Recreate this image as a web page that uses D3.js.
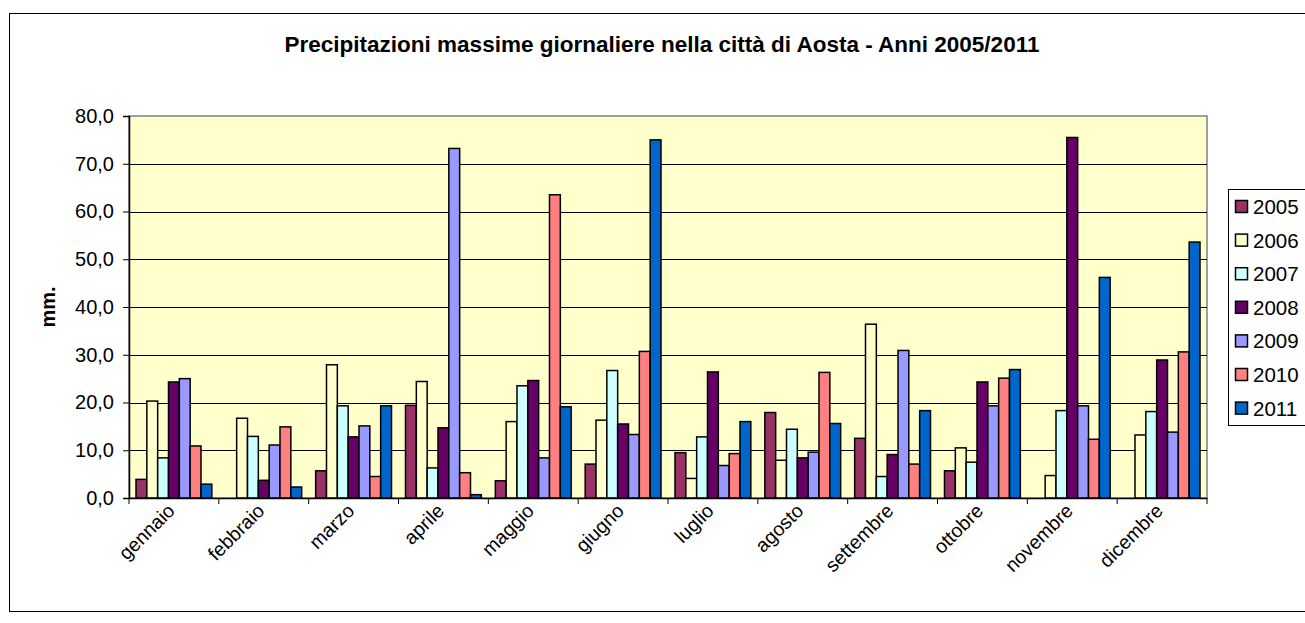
<!DOCTYPE html>
<html lang="it">
<head>
<meta charset="utf-8">
<title>Precipitazioni Aosta</title>
<script src="https://cdn.jsdelivr.net/npm/d3@7/dist/d3.min.js"></script>
<style>
  body { margin: 0; background: #fff; }
  svg { display: block; font-family: "Liberation Sans", Arial, sans-serif; }
</style>
</head>
<body>
<div id="chart"></div>
<script>
// months on the x axis
const months = ["gennaio", "febbraio", "marzo", "aprile", "maggio", "giugno",
                "luglio", "agosto", "settembre", "ottobre", "novembre", "dicembre"];
const years = ["2005", "2006", "2007", "2008", "2009", "2010", "2011"];

// max daily rain (mm), one value per month
const y2005 = [3.9, 0, 5.7, 19.4, 3.6, 7.1, 9.5, 17.9, 12.5, 5.7, 0, 0];
const y2006 = [20.3, 16.7, 27.9, 24.4, 16.0, 16.3, 4.1, 7.9, 36.4, 10.5, 4.7, 13.2];
const y2007 = [8.4, 12.9, 19.3, 6.3, 23.5, 26.7, 12.8, 14.4, 4.5, 7.5, 18.3, 18.1];
const y2008 = [24.3, 3.7, 12.8, 14.7, 24.6, 15.5, 26.4, 8.4, 9.1, 24.3, 75.5, 28.9];
const y2009 = [25.0, 11.1, 15.1, 73.2, 8.4, 13.3, 6.8, 9.6, 30.9, 19.3, 19.3, 13.8];
const y2010 = [10.9, 14.9, 4.5, 5.3, 63.5, 30.7, 9.3, 26.3, 7.1, 25.1, 12.3, 30.6];
const y2011 = [2.9, 2.3, 19.3, 0.7, 19.1, 75.0, 16.0, 15.6, 18.3, 26.9, 46.2, 53.6];

const yTicks = [0, 10, 20, 30, 40, 50, 60, 70, 80];
const colors = ["#993366", "#FFFFCC", "#CCFFFF", "#660066", "#9999FF", "#FF8080", "#0066CC"];

const series = [y2005, y2006, y2007, y2008, y2009, y2010, y2011];

const W = 1305, H = 623;
const plot = {left: 129, top: 116, right: 1207, bottom: 498};

const svg = d3.select("#chart").append("svg")
    .attr("width", W)
    .attr("height", H);

// outer chart border
svg.append("rect")
    .attr("x", 9.5).attr("y", 13.5)
    .attr("width", W + 10).attr("height", 598)
    .attr("fill", "#fff").attr("stroke", "#000");

// title
svg.append("text")
    .attr("x", 662).attr("y", 52)
    .attr("text-anchor", "middle")
    .style("font-size", "22.5px").style("font-weight", "bold")
    .text("Precipitazioni massime giornaliere nella città di Aosta - Anni 2005/2011");

const x = d3.scaleBand()
    .domain(months)
    .range([plot.left, plot.right]);

const xInner = d3.scaleBand()
    .domain(years)
    .range([7, x.bandwidth() - 7]);

const y = d3.scaleLinear()
    .domain([0, 80])
    .range([plot.bottom, plot.top]);

// plot background
svg.append("rect")
    .attr("x", plot.left).attr("y", plot.top)
    .attr("width", plot.right - plot.left).attr("height", plot.bottom - plot.top)
    .attr("fill", "#FFFFCC").attr("stroke", "#808080").attr("stroke-width", 1.5);

// gridlines
svg.append("g")
    .selectAll("line")
    .data(yTicks.filter(d => d > 0 && d < 80))
    .join("line")
    .attr("x1", plot.left).attr("x2", plot.right)
    .attr("y1", d => Math.round(y(d)) + 0.5).attr("y2", d => Math.round(y(d)) + 0.5)
    .attr("stroke", "#000").attr("stroke-width", 1);

// bars
const groups = svg.append("g")
    .selectAll("g")
    .data(years)
    .join("g")
    .attr("fill", (d, i) => colors[i]);

groups.selectAll("rect")
    .data((yr, i) => series[i].map((v, m) => ({year: yr, month: months[m], value: v})))
    .join("rect")
    .filter(d => d.value > 0)
    .attr("x", d => x(d.month) + xInner(d.year))
    .attr("y", d => y(d.value))
    .attr("width", xInner.bandwidth())
    .attr("height", d => y(0) - y(d.value))
    .attr("stroke", "#000")
    .attr("stroke-width", 1.5);

// y axis
const yAxis = svg.append("g")
    .attr("transform", "translate(" + plot.left + ",0)")
    .call(d3.axisLeft(y).tickValues(yTicks).tickSize(6).tickPadding(9)
        .tickFormat(d => d.toFixed(1).replace(".", ",")));
yAxis.selectAll("text").style("font-size", "20px").attr("fill", "#000");
yAxis.select(".domain").attr("stroke", "#000").attr("stroke-width", 1.5);

// x axis, ticks on the category boundaries
const xAxis = svg.append("g")
    .attr("transform", "translate(0," + plot.bottom + ")")
    .call(d3.axisBottom(x).tickSize(0).tickPadding(0));
xAxis.select(".domain").attr("stroke", "#000").attr("stroke-width", 1.5);
xAxis.selectAll(".tick text")
    .style("font-size", "19.5px")
    .attr("fill", "#000")
    .attr("text-anchor", "end")
    .attr("dx", "0")
    .attr("dy", "0")
    .attr("transform", "translate(2,14) rotate(-45)");

svg.append("g")
    .selectAll("line")
    .data(months.map(m => x(m)).concat([plot.right]))
    .join("line")
    .attr("x1", d => d).attr("x2", d => d)
    .attr("y1", plot.bottom).attr("y2", plot.bottom + 6)
    .attr("stroke", "#000");

// y axis title
svg.append("text")
    .attr("transform", "translate(55," + ((plot.top + plot.bottom) / 2) + ") rotate(-90)")
    .attr("text-anchor", "middle")
    .style("font-size", "20px").style("font-weight", "bold")
    .text("mm.");

// legend
const legend = svg.append("g");
legend.append("rect")
    .attr("x", 1228.5).attr("y", 189.5)
    .attr("width", 100).attr("height", 236)
    .attr("fill", "#fff").attr("stroke", "#000");

const items = legend.selectAll("g.item")
    .data(years)
    .join("g")
    .attr("class", "item")
    .attr("transform", (d, i) => "translate(0," + (206.5 + i * 33.6) + ")");

items.append("rect")
    .attr("x", 1235.5).attr("y", -6)
    .attr("width", 12).attr("height", 12)
    .attr("fill", (d, i) => colors[i])
    .attr("stroke", "#000").attr("stroke-width", 1.5);

items.append("text")
    .attr("x", 1253).attr("y", 7.5)
    .style("font-size", "20.5px")
    .text(d => d);
</script>
</body>
</html>
